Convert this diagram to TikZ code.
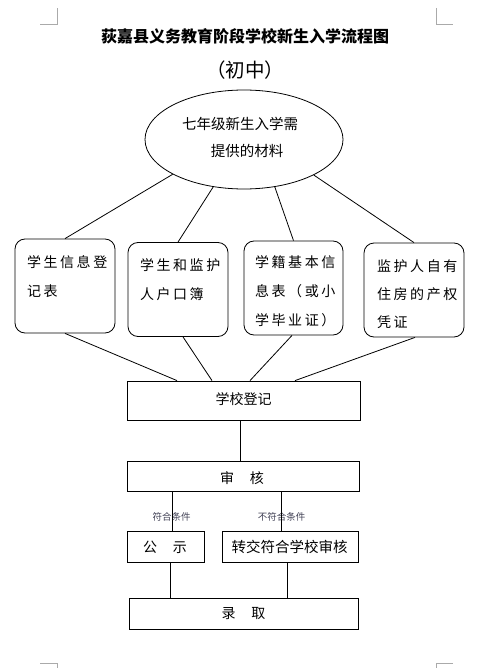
\documentclass[tikz,border=0pt]{standalone}
\usepackage{fontspec}
\setmainfont{Noto Sans CJK SC}
\newfontfamily\cjkwide[LetterSpace=18]{Noto Sans CJK SC}
\usetikzlibrary{shapes.geometric}
\definecolor{labelgray}{RGB}{64,64,84}
\definecolor{markgray}{RGB}{170,170,170}
\begin{document}
\begin{tikzpicture}[x=1pt,y=-1pt,
  conn/.style={draw=black,line width=0.8pt},
  cropmark/.style={draw=markgray,line width=0.8pt},
  matbox/.style={draw,line width=0.8pt,rounded corners=10pt,inner sep=0pt,minimum width=100pt,minimum height=94pt},
  flowbox/.style={draw,line width=0.8pt,inner sep=0pt},
  mattext/.style={anchor=north west,inner sep=0pt,align=left,font=\cjkwide\fontsize{14}{29}\selectfont},
  flowtext/.style={inner sep=0pt,font=\fontsize{14}{16}\selectfont},
  condlabel/.style={inner sep=0pt,text=labelgray,font=\fontsize{9.5}{11}\selectfont}]
\useasboundingbox (0,0) rectangle (483,668);
% crop marks
\draw[cropmark] (40,24) -- (57,24) -- (57,8);
\draw[cropmark] (436,8) -- (436,24) -- (453,24);
\draw[cropmark] (40,663) -- (57,663) -- (57,668);
\draw[cropmark] (453,663) -- (436,663) -- (436,668);
% titles
\node[inner sep=0pt,font=\bfseries\fontsize{16}{18}\selectfont] (title) at (245,36) {荻嘉县义务教育阶段学校新生入学流程图};
\node[inner sep=0pt,font=\fontsize{19.5}{22}\selectfont] (sub) at (245,70) {（初中）};
% ellipse
\node[ellipse,draw,line width=0.8pt,inner sep=0pt,minimum width=198pt,minimum height=99pt] (top) at (244,139.5) {};
\node[inner sep=0pt,align=center,font=\fontsize{14.5}{27}\selectfont] (toptext) at (240,137.5) {七年级新生入学需\\\hspace{14pt}提供的材料};
% material boxes
\node[matbox] (b1) at (65,286) {};
\node[matbox] (b2) at (178,289.5) {};
\node[matbox,minimum width=99pt] (b3) at (293.5,288) {};
\node[matbox] (b4) at (414,290) {};
\node[mattext] (t1) at (27,255) {学生信息登\\记表};
\node[mattext] (t2) at (140,258) {学生和监护\\人户口簿};
\node[mattext] (t3) at (255,255) {学籍基本信\\息表（或小\\学毕业证）};
\node[mattext,font=\cjkwide\fontsize{14}{28}\selectfont] (t4) at (377,260) {监护人自有\\住房的产权\\凭证};
% flow boxes
\node[flowbox,minimum width=233pt,minimum height=39pt] (reg) at (243.5,400.5) {};
\node[flowtext] (regt) at (243.5,399.5) {学校登记};
\node[flowbox,minimum width=232pt,minimum height=30pt] (shen) at (243,476) {};
\node[flowtext] (shent) at (242,478) {审\hspace{16pt}核};
\node[flowbox,minimum width=77pt,minimum height=31pt] (gs) at (165.5,546.5) {};
\node[flowtext] (gst) at (165,547) {公\hspace{16pt}示};
\node[flowbox,minimum width=136pt,minimum height=31pt] (zj) at (290,546.5) {};
\node[flowtext,font=\fontsize{14.5}{16}\selectfont] (zjt) at (289.5,547) {转交符合学校审核};
\node[flowbox,minimum width=229.5pt,minimum height=31pt] (lq) at (244,613.5) {};
\node[flowtext] (lqt) at (243.5,614) {录\hspace{16pt}取};
% condition labels
\node[condlabel] (c1) at (171.5,517) {符合条件};
\node[condlabel] (c2) at (281.5,517) {不符合条件};
% connectors ellipse -> boxes
\draw[conn] (top.206.6) -- (b1.north);
\draw[conn] (top.237.4) -- (b2.north);
\draw[conn] (top.303.4) -- (b3.north);
\draw[conn] (top.333.8) -- (b4.north);
% boxes -> registration
\draw[conn] (b1.south) -- ([xshift=-66.5pt]reg.north);
\draw[conn] ([xshift=5pt]b2.south) -- ([xshift=-31.5pt]reg.north);
\draw[conn] ([xshift=-1.5pt]b3.south) -- ([xshift=6.5pt]reg.north);
\draw[conn] ([xshift=1pt]b4.south) -- ([xshift=51.5pt]reg.north);
% flow
\draw[conn] ([xshift=-3.5pt]reg.south) -- ([xshift=-3pt]shen.north);
\draw[conn] ([xshift=6.5pt]gs.north |- shen.south) -- ([xshift=6.5pt]gs.north);
\draw[conn] ([xshift=-9pt]zj.north |- shen.south) -- ([xshift=-9pt]zj.north);
\draw[conn] ([xshift=4.5pt]gs.south) -- ([xshift=4.5pt]gs.south |- lq.north);
\draw[conn] ([xshift=-3pt]zj.south) -- ([xshift=-3pt]zj.south |- lq.north);
\end{tikzpicture}
\end{document}
